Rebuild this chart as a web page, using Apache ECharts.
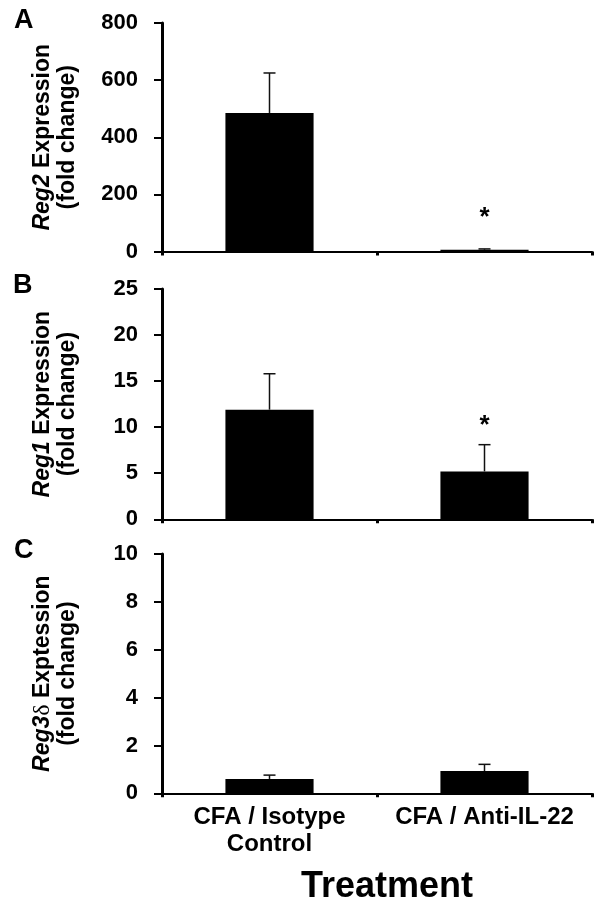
<!DOCTYPE html>
<html>
<head>
<meta charset="utf-8">
<script src="https://cdn.jsdelivr.net/npm/echarts@6/dist/echarts.min.js"></script>
<style>html,body{margin:0;padding:0;background:#fff}#c{width:600px;height:910px}</style>
</head>
<body>
<div id="c"></div>
<script>
// ---- data ----
var categories = ['CFA / Isotype\nControl', 'CFA / Anti-IL-22'];
var reg2Mean = [485, 6];
var reg2Err = [140, 3];
var reg2Sig = [null, 118];
var reg1Mean = [11.9, 5.2];
var reg1Err = [3.9, 2.9];
var reg1Sig = [null, 10.1];
var reg3dMean = [0.6, 0.93];
var reg3dErr = [0.16, 0.28];
var reg3dSig = [null, null];
var yTicksA = {min: 0, max: 800, interval: 200};
var yTicksB = {min: 0, max: 25, interval: 5};
var yTicksC = {min: 0, max: 10, interval: 2};

var SANS = 'Liberation Sans';

var chart = echarts.init(document.getElementById('c'), null, {renderer: 'canvas'});

var grids = [
  {left: 162, right: 8, top: 23, height: 228.5},
  {left: 162, right: 8, top: 289, height: 230.3},
  {left: 162, right: 8, top: 554, height: 239.3}
];

function xAxisFor(i, showLabel) {
  return {
    type: 'category', gridIndex: i, data: categories,
    axisLine: {lineStyle: {color: '#000', width: 2}},
    axisTick: {show: true, length: 4, lineStyle: {color: '#000', width: 3}},
    axisLabel: showLabel ? {
      show: true, interval: 0, color: '#000', fontFamily: SANS, fontWeight: 'bold',
      fontSize: 24, lineHeight: 27, margin: 11
    } : {show: false},
    splitLine: {show: false}
  };
}

function yAxisFor(i, t, name) {
  return {
    type: 'value', gridIndex: i, min: t.min, max: t.max, interval: t.interval,
    name: name, nameLocation: 'middle', nameRotate: 90, nameGap: 82, nameMoveOverlap: false,
    nameTextStyle: {
      color: '#000', fontFamily: SANS, fontWeight: 'bold', fontSize: 23, lineHeight: 25,
      rich: {
        i: {fontStyle: 'italic', fontWeight: 'bold', fontFamily: SANS, fontSize: 23, color: '#000', lineHeight: 25},
        n: {fontWeight: 'bold', fontFamily: SANS, fontSize: 23, color: '#000', lineHeight: 25},
        d: {fontWeight: 'normal', fontFamily: 'Liberation Serif', fontSize: 24, color: '#000', lineHeight: 25}
      }
    },
    axisLine: {show: true, lineStyle: {color: '#000', width: 3}},
    axisTick: {show: true, inside: false, length: 8, lineStyle: {color: '#000', width: 2}},
    axisLabel: {color: '#000', fontFamily: SANS, fontWeight: 'bold', fontSize: 22, margin: 24},
    splitLine: {show: false}
  };
}

function barSeries(i, vals) {
  return {
    type: 'bar', xAxisIndex: i, yAxisIndex: i, data: vals, barWidth: '41%',
    itemStyle: {color: '#000'}, z: 2
  };
}

function errSeries(i, means, errs, sigs) {
  return {
    type: 'custom', xAxisIndex: i, yAxisIndex: i, z: 5,
    data: means.map(function (m, k) { return [k, m, errs[k]]; }),
    renderItem: function (params, api) {
      var k = api.value(0), m = api.value(1), e = api.value(2);
      var base = api.coord([k, m]);
      var top = api.coord([k, m + e]);
      var children = [
        {type: 'line', shape: {x1: base[0], y1: base[1], x2: top[0], y2: top[1]},
         style: {stroke: '#111', lineWidth: 1.5}},
        {type: 'line', shape: {x1: top[0] - 6, y1: top[1], x2: top[0] + 6, y2: top[1]},
         style: {stroke: '#111', lineWidth: 1.5}}
      ];
      var s = sigs[params.dataIndex];
      if (s != null) {
        var p = api.coord([k, s]);
        children.push({type: 'text', x: p[0], y: p[1],
          style: {text: '*', fill: '#000', font: 'bold 26px "Liberation Sans"', align: 'center', verticalAlign: 'middle'}});
      }
      return {type: 'group', children: children};
    }
  };
}

var option = {
  backgroundColor: '#fff',
  animation: false,
  grid: grids,
  xAxis: [xAxisFor(0, false), xAxisFor(1, false), xAxisFor(2, true)],
  yAxis: [
    yAxisFor(0, yTicksA, '{i|Reg2}{n| Expression}\n{n|(fold change)}'),
    yAxisFor(1, yTicksB, '{i|Reg1}{n| Expression}\n{n|(fold change)}'),
    yAxisFor(2, yTicksC, '{i|Reg3}{d|δ}{n| Exptession}\n{n|(fold change)}')
  ],
  series: [
    barSeries(0, reg2Mean), errSeries(0, reg2Mean, reg2Err, reg2Sig),
    barSeries(1, reg1Mean), errSeries(1, reg1Mean, reg1Err, reg1Sig),
    barSeries(2, reg3dMean), errSeries(2, reg3dMean, reg3dErr, reg3dSig)
  ],
  graphic: [
    {type: 'text', left: 14, top: 7, style: {text: 'A', fill: '#000', font: 'bold 27px "Liberation Sans"'}},
    {type: 'text', left: 13, top: 272, style: {text: 'B', fill: '#000', font: 'bold 27px "Liberation Sans"'}},
    {type: 'text', left: 14, top: 537, style: {text: 'C', fill: '#000', font: 'bold 27px "Liberation Sans"'}},
    {type: 'text', x: 387, y: 887, style: {text: 'Treatment', fill: '#000', font: 'bold 36px "Liberation Sans"', align: 'center', verticalAlign: 'middle'}}
  ]
};
chart.setOption(option);
</script>
</body>
</html>
